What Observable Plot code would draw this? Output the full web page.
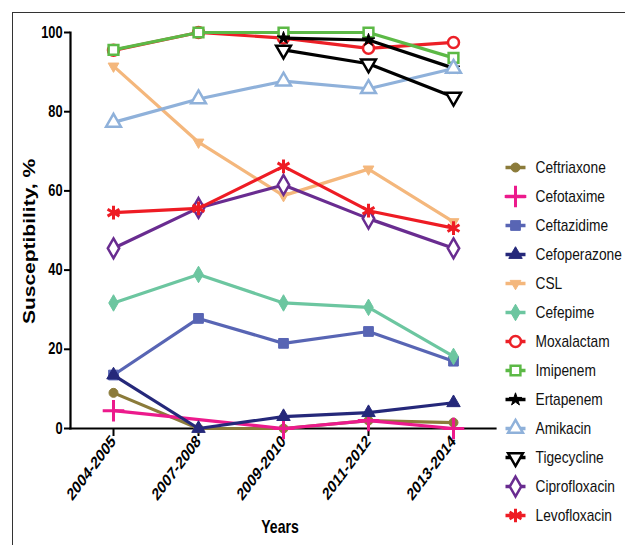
<!DOCTYPE html>
<html>
<head>
<meta charset="utf-8">
<script src="https://cdn.jsdelivr.net/npm/d3@7"></script>
<script src="https://cdn.jsdelivr.net/npm/@observablehq/plot@0.6"></script>
<style>
  html, body { margin: 0; padding: 0; background: #fff; }
  #wrap { position: relative; width: 625px; height: 545px; overflow: hidden; background: #fff; }
  #border { position: absolute; left: 12px; top: 12px; right: -10px; bottom: -10px; border-left: 1.5px solid #333; border-top: 1.5px solid #333; }
  #main { position: absolute; left: 0; top: 0; }
  #legend { position: absolute; left: 490px; top: 0; }
</style>
</head>
<body>
<div id="wrap"><div id="border"></div><div id="main"></div><div id="legend"></div></div>
<script>
// ---------- data ----------
const years = ["2004-2005", "2007-2008", "2009-2010", "2011-2012", "2013-2014"];
const yTicks = [0, 20, 40, 60, 80, 100];
const drugs = ["Ceftriaxone", "Cefotaxime", "Ceftazidime", "Cefoperazone", "CSL", "Cefepime",
  "Moxalactam", "Imipenem", "Ertapenem", "Amikacin", "Tigecycline", "Ciprofloxacin", "Levofloxacin"];
const ceftriaxone   = [9, 0, 0, 2, 1.5];
const cefotaxime    = [4.5, null, 0, 2, 0];
const ceftazidime   = [13.5, 27.8, 21.5, 24.5, 17];
const cefoperazone  = [13.5, 0, 3, 4, 6.5];
const csl           = [91.5, 72.3, 58.8, 65.5, 52.2];
const cefepime      = [31.7, 38.9, 31.7, 30.6, 18.2];
const moxalactam    = [95.5, 100, 98.6, 96, 97.5];
const imipenem      = [95.6, 100, 100, 100, 93.6];
const ertapenem     = [null, null, 98.6, 98.1, 91];
const amikacin      = [77.3, 83.2, 87.7, 85.8, 90.9];
const tigecycline   = [null, null, 95.6, 92.1, 83.7];
const ciprofloxacin = [45.5, 55.7, 61.5, 53, 45.5];
const levofloxacin  = [54.5, 55.6, 66.2, 55, 50.6];
const xTitle = "Years";
const yTitle = "Susceptibility, %";

const seriesValues = [ceftriaxone, cefotaxime, ceftazidime, cefoperazone, csl, cefepime,
  moxalactam, imipenem, ertapenem, amikacin, tigecycline, ciprofloxacin, levofloxacin];

// ---------- styles ----------
const triangleDown = {
  draw(ctx, size) {
    const y = -Math.sqrt(size / (Math.sqrt(3) * 3));
    ctx.moveTo(0, -2 * y);
    ctx.lineTo(-Math.sqrt(3) * y, y);
    ctx.lineTo(Math.sqrt(3) * y, y);
    ctx.closePath();
  }
};
const styles = [
  {color: "#8b7b3a", symbol: "circle", open: false, r: 4.5},
  {color: "#ec1a8c", symbol: "plus", open: "stroke", r: 7},
  {color: "#5865b4", symbol: "square", open: false, r: 5.5},
  {color: "#25287a", symbol: "triangle", open: false, r: 5},
  {color: "#f4b77c", symbol: triangleDown, open: false, r: 4},
  {color: "#6cc6a0", symbol: "diamond", open: false, r: 5},
  {color: "#ec2027", symbol: "circle", open: true, r: 5.5},
  {color: "#5cb946", symbol: "square", open: true, r: 5.5},
  {color: "#000000", symbol: "star", open: false, r: 4},
  {color: "#8fb1da", symbol: "triangle", open: true, r: 5.5},
  {color: "#000000", symbol: triangleDown, open: true, r: 5.5},
  {color: "#692c90", symbol: "diamond", open: true, r: 6},
  {color: "#ee1c24", symbol: "asterisk", open: "stroke", r: 6.5}
];
const FONT = "'Liberation Sans', Arial, sans-serif";

function dotOpts(st, extra) {
  const base = {symbol: st.symbol, r: st.r};
  if (st.open === true) Object.assign(base, {fill: "white", stroke: st.color, strokeWidth: 2.5});
  else if (st.open === "stroke") Object.assign(base, {stroke: st.color, strokeWidth: 3, fill: "none"});
  else Object.assign(base, {fill: st.color, stroke: st.color, strokeWidth: 1});
  return Object.assign(base, extra);
}

// squeeze text horizontally on screen around its anchor (the reference figure is horizontally compressed)
function squeezeEl(t, sx) {
  const tl = t.transform && t.transform.baseVal;
  const c = tl && tl.numberOfItems ? tl.consolidate() : null;
  const m = c ? c.matrix : {a: 1, b: 0, c: 0, d: 1, e: 0, f: 0};
  const xa = parseFloat(t.getAttribute("x")) || 0, ya = parseFloat(t.getAttribute("y")) || 0;
  const px = m.a * xa + m.c * ya + m.e, py = m.b * xa + m.d * ya + m.f;
  const orig = t.getAttribute("transform") || "";
  t.setAttribute("transform", `translate(${px},${py}) scale(${sx},1) translate(${-px},${-py}) ${orig}`);
}
function squeeze(svg, selector, sx) {
  svg.querySelectorAll(selector).forEach(t => squeezeEl(t, sx));
}
function squeezeText(svg, content, sx) {
  svg.querySelectorAll("text").forEach(t => { if (t.textContent === content) squeezeEl(t, sx); });
}

// ---------- table ----------
const table = drugs.map((name, i) => years.map((yr, j) => ({drug: name, year: yr, value: seriesValues[i][j]}))
  .filter(d => d.value != null));

const seriesMarks = [];
table.forEach((rows, i) => {
  const st = styles[i];
  seriesMarks.push(Plot.line(rows, {x: "year", y: "value", stroke: st.color, strokeWidth: 3.2}));
  seriesMarks.push(Plot.dot(rows, dotOpts(st, {x: "year", y: "value"})));
});

const main = Plot.plot({
  width: 625,
  height: 545,
  marginLeft: 70,
  marginRight: 130,
  marginTop: 32,
  marginBottom: 117,
  style: {background: "transparent", fontFamily: FONT, color: "#000", overflow: "visible"},
  x: {type: "point", domain: years, padding: 0.5, label: null},
  y: {domain: [0, 100], label: null},
  marks: [
    Plot.axisY({ticks: yTicks, tickSize: 6, tickPadding: 2, fontSize: 16, fontWeight: "bold", label: null, strokeWidth: 2}),
    Plot.axisX({tickSize: 8, tickPadding: 2, tickRotate: -45, fontSize: 17.5, fontWeight: "bold", label: null, strokeWidth: 2}),
    Plot.frame({anchor: "left", strokeWidth: 2.2}),
    Plot.frame({anchor: "bottom", strokeWidth: 2.2}),
    ...seriesMarks,
    Plot.text([yTitle], {frameAnchor: "left", text: d => d, rotate: -90, textAnchor: "middle", lineAnchor: "middle", dx: -41, dy: 11, fontSize: 21, fontWeight: "bold"}),
    Plot.text([xTitle], {frameAnchor: "bottom", text: d => d, textAnchor: "middle", lineAnchor: "middle", dy: 99, dx: -3, fontSize: 18, fontWeight: "bold"})
  ]
});
document.getElementById("main").appendChild(main);
squeeze(main, '[aria-label="y-axis tick label"] text', 0.8);
squeeze(main, '[aria-label="x-axis tick label"] text', 0.75);
squeezeText(main, yTitle, 0.75);
squeezeText(main, xTitle, 0.78);

// ---------- legend ----------
const legendRows = drugs.map((name, i) => ({drug: name, i}));
const legendMarks = [];
legendRows.forEach(row => {
  const st = styles[row.i];
  legendMarks.push(Plot.link([row], {x1: () => 0, x2: () => 1, y1: "drug", y2: "drug", stroke: st.color, strokeWidth: 3.5}));
  legendMarks.push(Plot.dot([row], dotOpts(st, {x: () => 0.5, y: "drug"})));
});
legendMarks.push(Plot.text(legendRows, {x: () => 1.5, y: "drug", text: "drug", textAnchor: "start", fontSize: 16, fill: "#111"}));

const legend = Plot.plot({
  width: 135,
  height: 545,
  margin: 0,
  style: {background: "transparent", fontFamily: FONT, overflow: "visible"},
  x: {domain: [0, 1], range: [15, 35], axis: null},
  y: {type: "point", domain: drugs, range: [166, 516], padding: 0, axis: null},
  marks: legendMarks
});
document.getElementById("legend").appendChild(legend);
legend.querySelectorAll("text").forEach(t => { if (drugs.includes(t.textContent)) squeezeEl(t, 0.86); });
</script>
</body>
</html>
